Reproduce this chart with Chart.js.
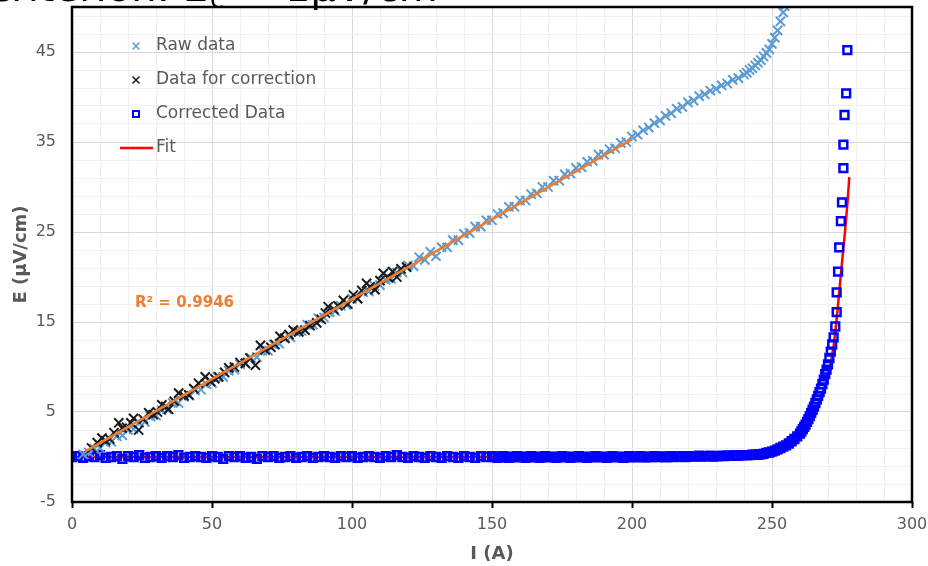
<!DOCTYPE html>
<html>
<head>
<meta charset="utf-8">
<script src="https://cdn.jsdelivr.net/npm/chart.js@4.4.0/dist/chart.umd.min.js"></script>
<style>
  html, body { margin: 0; padding: 0; background: #fff; }
  canvas { display: block; }
</style>
</head>
<body>
<canvas id="ecChart" width="928" height="566"></canvas>
<script>
// values, [I (A), E (µV/cm)]
const rawData = [
  [4,0.3],[6,0.5],[8,0.9],[10,1.0],[12,1.6],[14,1.7],[16,2.3],[18,2.4],[20,3.0],[22,3.1],
  [24,3.8],[26,3.9],[28,4.5],[30,4.6],[32,5.2],[34,5.3],[36,6.0],[38,6.0],[40,6.7],[42,6.8],
  [44,7.4],[46,7.5],[48,8.1],[50,8.2],[52,8.9],[54,8.9],[56,9.6],[58,9.7],[60,10.3],[62,10.4],
  [64,11.0],[66,11.1],[68,11.8],[70,11.8],[72,12.5],[74,12.6],[76,13.2],[78,13.3],[80,13.9],[82,14.0],
  [84,14.7],[86,14.7],[88,15.4],[90,15.5],[92,16.1],[94,16.2],[96,16.8],[98,16.9],[100,17.6],[102,17.6],
  [104,18.3],[106,18.4],[108,19.0],[110,19.1],[112,19.7],[114,19.8],[116,20.5],[118,20.5],[120,21.3],[122,21.2],
  [124,22.2],[126,21.9],[128,22.8],[130,22.3],[132,23.3],[134,23.3],[136,24.1],[138,24.1],[140,24.8],[142,24.9],
  [144,25.6],[146,25.6],[148,26.3],[150,26.3],[152,27.0],[154,27.1],[156,27.8],[158,27.8],[160,28.5],[162,28.5],
  [164,29.2],[166,29.3],[168,30.0],[170,30.0],[172,30.7],[174,30.7],[176,31.4],[178,31.5],[180,32.1],[182,32.2],
  [184,32.8],[186,32.9],[188,33.6],[190,33.6],[192,34.2],[194,34.3],[196,34.9],[198,35.0],[200,35.6],[202,35.8],
  [204,36.3],[206,36.6],[208,37.1],[210,37.4],[212,37.9],[214,38.2],[216,38.7],[218,38.9],[220,39.4],[222,39.6],
  [224,40.1],[226,40.3],[228,40.7],[230,40.9],[232,41.3],[234,41.5],[236,41.9],[238,42.1],[240,42.5],[241,42.7],
  [242,43.0],[243,43.2],[244,43.5],[245,43.8],[246,44.1],[247,44.5],[248,44.9],[249,45.3],[250,45.9],[251,46.6],
  [252,47.4],[253,48.4],[254,49.4],[254.5,50.1]
];

const correctionData = [
  [7,1.0],[9,1.6],[10.7,2.1],[12,1.8],[13.5,2.0],[15,2.7],[16.7,3.8],[17.9,3.2],[19.5,3.3],[21,3.8],
  [22,4.3],[23.8,3.0],[25.5,4.2],[27.4,4.9],[29,4.7],[30.5,5.0],[32.1,5.8],[33.5,5.6],[34.5,5.3],[36.5,6.2],
  [38.1,7.1],[40,6.8],[41.7,6.9],[43.5,7.6],[45.2,8.2],[47.6,8.9],[49.5,8.4],[51,8.7],[52.4,8.9],[54.5,9.4],
  [56,9.9],[58,10.0],[60,10.5],[61.9,10.4],[63.5,11.0],[65.5,10.2],[67.3,12.4],[69,11.9],[71,12.2],[72.5,12.5],
  [74.3,13.4],[76,13.2],[77.5,13.6],[79,14.1],[81,13.9],[83.2,14.1],[85,14.6],[87.4,14.9],[89,15.3],[90.5,16.0],
  [91.5,16.7],[93.5,16.4],[95,16.8],[96.9,17.4],[98.5,17.0],[100.5,18.0],[102,17.6],[103.5,18.5],[105.2,19.3],[106.5,18.9],
  [108.2,18.6],[110,19.6],[111.2,20.4],[113,19.9],[114.5,20.6],[116,20.0],[117.5,20.9],[119.5,21.1]
];

const correctedData = [
  [0,0],[2,0.1],[4,-0.1],[6,0.1],[8,0],[10,0.2],[12,-0.1],[14,0],[16,0.1],[18,-0.2],
  [20,0.1],[22,0],[24,0.2],[26,-0.1],[28,0],[30,0.1],[32,-0.1],[34,0.1],[36,0],[38,0.2],
  [40,-0.1],[42,0],[44,0.1],[46,0],[48,-0.1],[50,0.1],[52,0],[54,-0.2],[56,0.1],[58,0],
  [60,0.1],[62,-0.1],[64,0],[66,-0.2],[68,0.1],[70,0],[72,0.1],[74,-0.1],[76,0],[78,0.1],
  [80,-0.1],[82,0],[84,0.1],[86,-0.1],[88,0],[90,0.1],[92,0],[94,-0.1],[96,0.1],[98,0],
  [100,0.1],[102,-0.1],[104,0],[106,0.1],[108,0],[110,-0.1],[112,0.1],[114,0],[116,0.2],[118,0],
  [120,-0.1],[122,0.1],[124,0],[126,-0.1],[128,0.1],[130,0],[132,-0.1],[134,0.1],[136,0],[138,-0.1],
  [140,0.1],[142,0],[144,-0.1],[146,0.1],[148,0],[150,0.1],
  [151,0],[152,-0.1],[153,0],[154,0.1],[155,0],[156,-0.1],[157,0],[158,0],[159,0.1],[160,0],
  [161,0],[162,-0.1],[163,0],[164,0.1],[165,0],[166,0],[167,-0.1],[168,0],[169,0.1],[170,0],
  [171,0],[172,0],[173,-0.1],[174,0],[175,0.1],[176,0],[177,0],[178,-0.1],[179,0],[180,0],
  [181,0.1],[182,0],[183,0],[184,-0.1],[185,0],[186,0],[187,0.1],[188,0],[189,0],[190,0],
  [191,-0.1],[192,0],[193,0.1],[194,0],[195,0],[196,0],[197,-0.1],[198,0],[199,0.1],[200,0],
  [201,0],[202,0],[203,0.1],[204,0],[205,-0.05],[206,0.05],[207,0],[208,0.1],[209,0],[210,0.05],
  [211,0.05],[212,-0.05],[213,0.05],[214,0.1],[215,0],[216,0.05],[217,0.05],[218,0.1],[219,0],[220,0.1],
  [221,0.1],[222,0.05],[223,0.1],[224,0.15],[225,0.05],[226,0.1],[227,0.1],[228,0.15],[229,0.05],[230,0.1],
  [231,0.1],[232,0.15],[233,0.1],[234,0.15],[235,0.15],[236,0.15],[237,0.15],[238,0.15],[239,0.2],[240,0.2],
  [241,0.2],[242,0.2],[243,0.25],[244,0.25],[245,0.25],
  [246,0.3],[247,0.35],[248,0.45],[249,0.5],[250,0.6],[251,0.7],[252,0.85],[253,1.0],[254,1.15],[255,1.3],
  [256,1.5],[257,1.75],[258,2.0],[259,2.3],[260,2.6],[260.5,2.85],[261,3.1],[261.5,3.35],[262,3.6],[262.5,3.9],
  [263,4.2],[263.5,4.55],[264,4.9],[264.5,5.25],[265,5.6],[265.5,6.0],[266,6.4],[266.5,6.8],[267,7.2],[267.5,7.6],
  [268,8.1],[268.5,8.6],[269,9.2],[269.5,9.7],[270,10.3],[270.5,11.0],[271,11.7],[271.5,12.5],[272,13.3],[272.6,14.5],
  [273.1,16.1],[273.1,18.3],[273.6,20.6],[274,23.3],[274.6,26.2],[275,28.3],[275.5,32.1],[275.5,34.7],[275.9,38.0],[276.5,40.4],
  [276.9,45.2]
];

const fitData = [
  [0,0],[100,0],[150,0],[200,0.02],[220,0.06],[230,0.1],[240,0.25],[245,0.4],[250,0.7],[255,1.2],
  [258,1.7],[260,2.2],[262,2.9],[264,3.8],[266,5.1],[268,6.8],[269,7.8],[270,9.0],[271,10.5],[272,12.3],
  [273,15.0],[274,18.3],[275,21.6],[276,24.8],[277,28.4],[277.6,31.1]
];

// linear trendline through the raw data
const trendData = [[4.6,0.6],[200,35.3]];

const xMajorTicks = [0, 50, 100, 150, 200, 250, 300];
const yMajorTicks = [-5, 5, 15, 25, 35, 45];
const legendLabels = ['Raw data', 'Data for correction', 'Corrected Data', 'Fit'];
const r2Label = 'R² = 0.9946';
const headerText = 'criterion: E';

const toXY = pairs => pairs.map(p => ({ x: p[0], y: p[1] }));

const GRAY = '#595959';

const extras = {
  id: 'extras',
  afterDatasetsDraw(chart) {
    const { ctx, chartArea: a } = chart;
    ctx.save();
    ctx.strokeStyle = '#000';
    ctx.lineWidth = 2.5;
    ctx.strokeRect(a.left, a.top, a.right - a.left, a.bottom - a.top);
    ctx.restore();
  },
  afterDraw(chart) {
    const { ctx, chartArea: a, scales } = chart;
    ctx.save();

    // legend inside the plot
    const mx = a.left + 64, tx = a.left + 84;
    ctx.font = '17px "DejaVu Sans"';
    ctx.textBaseline = 'middle';
    ctx.textAlign = 'left';
    legendLabels.forEach((label, i) => {
      const y = a.top + 39 + i * 34;
      ctx.lineWidth = 1.5;
      if (i === 0 || i === 1) {
        ctx.strokeStyle = i === 0 ? '#5B9BD5' : '#1a1a1a';
        ctx.beginPath();
        ctx.moveTo(mx - 3.5, y - 3.5); ctx.lineTo(mx + 3.5, y + 3.5);
        ctx.moveTo(mx + 3.5, y - 3.5); ctx.lineTo(mx - 3.5, y + 3.5);
        ctx.stroke();
      } else if (i === 2) {
        ctx.strokeStyle = '#0000FF';
        ctx.lineWidth = 2;
        ctx.strokeRect(mx - 3, y - 3, 6, 6);
      } else {
        ctx.strokeStyle = '#FF0000';
        ctx.lineWidth = 2.5;
        ctx.beginPath();
        ctx.moveTo(mx - 16, y); ctx.lineTo(mx + 17, y);
        ctx.stroke();
      }
      ctx.fillStyle = GRAY;
      ctx.fillText(label, tx, y);
    });

    // R² of the trendline
    ctx.font = 'bold 15px "DejaVu Sans"';
    ctx.fillStyle = '#ED7D31';
    ctx.fillText(r2Label, scales.x.getPixelForValue(22.5), scales.y.getPixelForValue(17.1));

    // slide title cut off at the top
    ctx.fillStyle = '#000';
    ctx.textBaseline = 'alphabetic';
    ctx.font = '40px "DejaVu Sans"';
    ctx.textAlign = 'right';
    ctx.fillText(headerText, 208, 1);
    ctx.font = '26px "DejaVu Sans"';
    ctx.textAlign = 'left';
    ctx.fillText('c', 210, 8);
    ctx.font = '40px "DejaVu Sans"';
    ctx.fillText(' ~ 1µV/cm', 226, 1);

    ctx.restore();
  }
};

new Chart(document.getElementById('ecChart'), {
  type: 'scatter',
  data: {
    datasets: [
      {
        label: legendLabels[0],
        data: toXY(rawData),
        pointStyle: 'crossRot',
        pointRadius: 6.5,
        pointBorderWidth: 2,
        borderColor: '#5B9BD5',
        backgroundColor: '#5B9BD5',
        order: 2
      },
      {
        label: legendLabels[1],
        data: toXY(correctionData),
        pointStyle: 'crossRot',
        pointRadius: 6.5,
        pointBorderWidth: 2,
        borderColor: '#1a1a1a',
        backgroundColor: '#1a1a1a',
        order: 1
      },
      {
        label: legendLabels[2],
        data: toXY(correctedData),
        pointStyle: 'rect',
        pointRadius: 5.5,
        pointBorderWidth: 2.5,
        borderColor: '#0000FF',
        backgroundColor: 'rgba(0,0,0,0)',
        order: 3
      },
      {
        label: legendLabels[3],
        data: toXY(fitData),
        showLine: true,
        pointRadius: 0,
        borderColor: '#FF0000',
        borderWidth: 2.5,
        order: 4
      },
      {
        label: 'Linear (Data for correction)',
        data: toXY(trendData),
        showLine: true,
        pointRadius: 0,
        borderColor: '#ED7D31',
        borderWidth: 2.5,
        order: 0
      }
    ]
  },
  options: {
    responsive: false,
    animation: false,
    events: [],
    layout: { autoPadding: false, padding: { top: 7, right: 16, left: 0, bottom: 0 } },
    plugins: {
      legend: { display: false },
      tooltip: { enabled: false }
    },
    scales: {
      x: {
        type: 'linear',
        min: 0,
        max: 300,
        afterFit: s => {
          s.height = 64;
          s.paddingLeft = 0; s.paddingRight = 0; s.paddingTop = 0; s.paddingBottom = 0;
        },
        border: { display: false },
        grid: {
          color: c => (c.tick && xMajorTicks.includes(c.tick.value)) ? '#D9D9D9' : '#F0F0F0',
          tickColor: c => (c.tick && xMajorTicks.includes(c.tick.value)) ? '#000' : 'rgba(0,0,0,0)',
          tickLength: 6,
          tickWidth: 2
        },
        ticks: {
          stepSize: 10,
          autoSkip: false,
          maxRotation: 0,
          padding: 7,
          color: GRAY,
          font: { family: 'DejaVu Sans', size: 16 },
          callback: v => xMajorTicks.includes(v) ? v : ''
        },
        title: {
          display: true,
          text: 'I (A)',
          color: GRAY,
          font: { family: 'DejaVu Sans', size: 18, weight: 'bold' },
          padding: { top: 0, bottom: 1 }
        }
      },
      y: {
        type: 'linear',
        min: -5,
        max: 50,
        afterFit: s => {
          s.width = 72;
          s.paddingLeft = 0; s.paddingRight = 0; s.paddingTop = 0; s.paddingBottom = 0;
        },
        afterBuildTicks: s => {
          const t = [];
          for (let v = -5; v < 50; v += 2) t.push({ value: v });
          s.ticks = t;
        },
        border: { display: false },
        grid: {
          color: c => (c.tick && yMajorTicks.includes(c.tick.value)) ? '#D9D9D9' : '#F0F0F0',
          drawTicks: false
        },
        ticks: {
          autoSkip: false,
          padding: 16,
          color: GRAY,
          font: { family: 'DejaVu Sans', size: 16 },
          callback: v => yMajorTicks.includes(v) ? v : ''
        },
        title: {
          display: true,
          text: 'E (µV/cm)',
          color: GRAY,
          font: { family: 'DejaVu Sans', size: 18, weight: 'bold' },
          padding: { top: 11, bottom: 0 }
        }
      }
    }
  },
  plugins: [extras]
});
</script>
</body>
</html>
